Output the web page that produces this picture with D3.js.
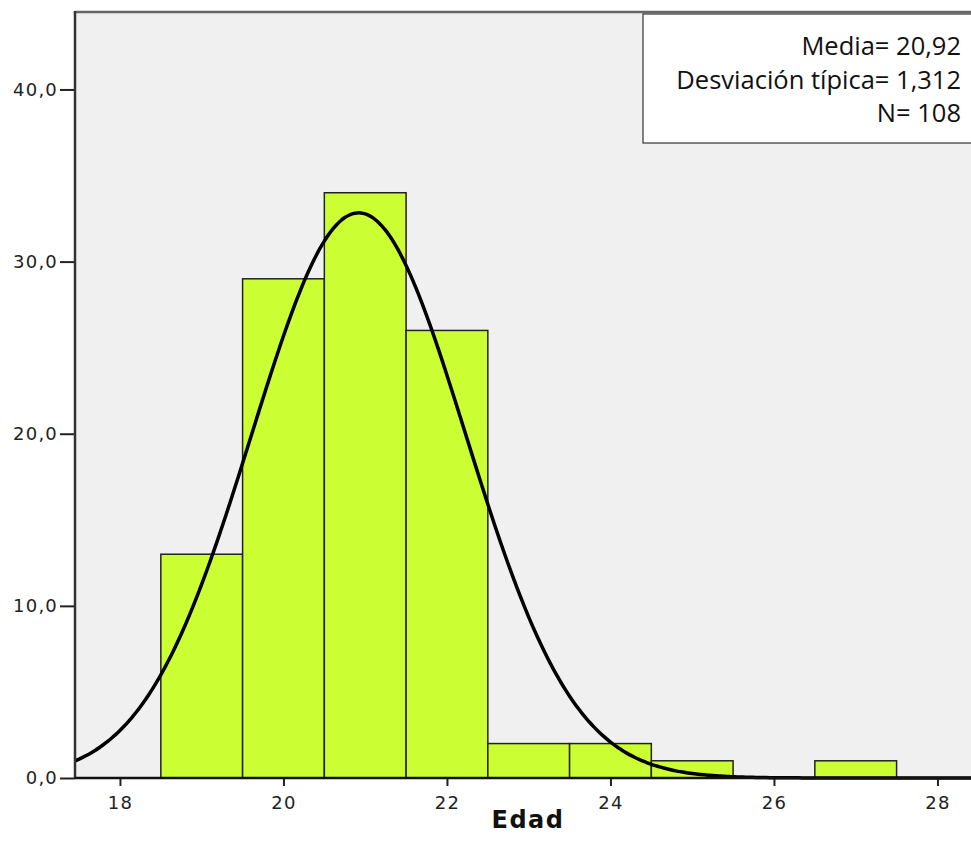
<!DOCTYPE html>
<html>
<head>
<meta charset="utf-8">
<script src="https://cdn.jsdelivr.net/npm/d3@7"></script>
<style>
  body { margin: 0; background: #fff; }
  svg { display: block; }
</style>
</head>
<body>
<div id="chart"><svg></svg></div>
<script>
const binStart = [18.5, 19.5, 20.5, 21.5, 22.5, 23.5, 24.5, 25.5, 26.5]
const binEnd = [19.5, 20.5, 21.5, 22.5, 23.5, 24.5, 25.5, 26.5, 27.5]
const frecuencia = [13, 29, 34, 26, 2, 2, 1, 0, 1]
const xTicks = [18, 20, 22, 24, 26, 28]
const yTicks = [0, 10, 20, 30, 40]
const statsLines = ['Media= 20,92', 'Desviación típica= 1,312', 'N= 108']
const media = 20.92
const desv = 1.312
const n = 108

const W = 971, H = 854
const plotLeft = 75, plotTop = 12, plotBottom = 778

const svg = d3.select('#chart svg')
  .attr('width', W)
  .attr('height', H)

const x = d3.scaleLinear()
  .domain([17.45, 29])
  .range([plotLeft, plotLeft + (29 - 17.45) * 81.75])
const y = d3.scaleLinear()
  .domain([0, 44.5])
  .range([plotBottom, plotTop])

// fondo del area de grafico
svg.append('rect')
  .attr('x', plotLeft)
  .attr('y', plotTop)
  .attr('width', x(29) - plotLeft)
  .attr('height', plotBottom - plotTop)
  .attr('fill', '#f0f0f0')
  .attr('stroke', 'none')

const bins = frecuencia.map((f, i) => ({ x0: binStart[i], x1: binEnd[i], f: f }))

svg.append('g')
  .selectAll('rect')
  .data(bins.filter(d => d.f > 0))
  .enter()
  .append('rect')
  .attr('x', d => x(d.x0))
  .attr('y', d => y(d.f))
  .attr('width', d => x(d.x1) - x(d.x0))
  .attr('height', d => y(0) - y(d.f))
  .attr('fill', '#ccff33')
  .attr('stroke', '#222')
  .attr('stroke-width', 1.5)

// curva normal a partir de media, desviacion y N (ancho de clase = 1)
const pdf = v => n * Math.exp(-0.5 * ((v - media) / desv) ** 2) / (desv * Math.sqrt(2 * Math.PI))
const xs = d3.range(17.45, 29.01, 0.05)
const line = d3.line()
  .x(d => x(d))
  .y(d => y(pdf(d)))
  .curve(d3.curveBasis)

svg.append('path')
  .datum(xs)
  .attr('d', line)
  .attr('fill', 'none')
  .attr('stroke', '#000')
  .attr('stroke-width', 3.5)

// marco
svg.append('line')
  .attr('x1', plotLeft).attr('x2', W)
  .attr('y1', plotTop).attr('y2', plotTop)
  .attr('stroke', '#666').attr('stroke-width', 2.5)

// ejes
const yAxis = svg.append('g')
  .attr('transform', 'translate(' + plotLeft + ',0)')
  .call(d3.axisLeft(y).tickValues(yTicks).tickSize(15).tickSizeOuter(0)
    .tickFormat(d => d3.format('.1f')(d).replace('.', ',')))
yAxis.select('.domain').remove()
yAxis.append('line')
  .attr('x1', 0).attr('x2', 0)
  .attr('y1', plotTop - 1).attr('y2', plotBottom)
  .attr('stroke', '#333').attr('stroke-width', 2.5)
yAxis.selectAll('.tick line').attr('stroke', '#222').attr('stroke-width', 2)
yAxis.selectAll('.tick text')
  .attr('x', -17)
  .attr('fill', '#222')
  .style('font-family', 'DejaVu Sans, sans-serif')
  .style('font-size', '18px')
  .style('letter-spacing', '1.2px')

const xAxis = svg.append('g')
  .attr('transform', 'translate(0,' + plotBottom + ')')
  .call(d3.axisBottom(x).tickValues(xTicks).tickSize(8).tickSizeOuter(0))
xAxis.select('.domain').remove()
xAxis.append('line')
  .attr('x1', plotLeft).attr('x2', W)
  .attr('y1', 0).attr('y2', 0)
  .attr('stroke', '#111').attr('stroke-width', 2.5)
xAxis.selectAll('.tick line').attr('stroke', '#222').attr('stroke-width', 2)
xAxis.selectAll('.tick text')
  .attr('y', 18)
  .attr('fill', '#222')
  .style('font-family', 'DejaVu Sans, sans-serif')
  .style('font-size', '18px')
  .style('letter-spacing', '1.2px')

svg.append('text')
  .attr('x', 528)
  .attr('y', 828)
  .attr('text-anchor', 'middle')
  .attr('fill', '#111')
  .style('font-family', 'DejaVu Sans, sans-serif')
  .style('font-weight', '700')
  .style('font-size', '24px')
  .style('letter-spacing', '1.5px')
  .text('Edad')

// cuadro de estadisticos
const box = svg.append('g')
box.append('rect')
  .attr('x', 643)
  .attr('y', 14)
  .attr('width', 340)
  .attr('height', 129)
  .attr('fill', '#fff')
  .attr('stroke', '#333')
  .attr('stroke-width', 1.2)
box.selectAll('text')
  .data(statsLines)
  .enter()
  .append('text')
  .attr('x', 961)
  .attr('y', (d, i) => 55 + i * 33.5)
  .attr('text-anchor', 'end')
  .attr('fill', '#111')
  .style('font-family', 'Open Sans, Liberation Sans, sans-serif')
  .style('font-size', '25.5px')
  .text(d => d)
</script>
</body>
</html>
